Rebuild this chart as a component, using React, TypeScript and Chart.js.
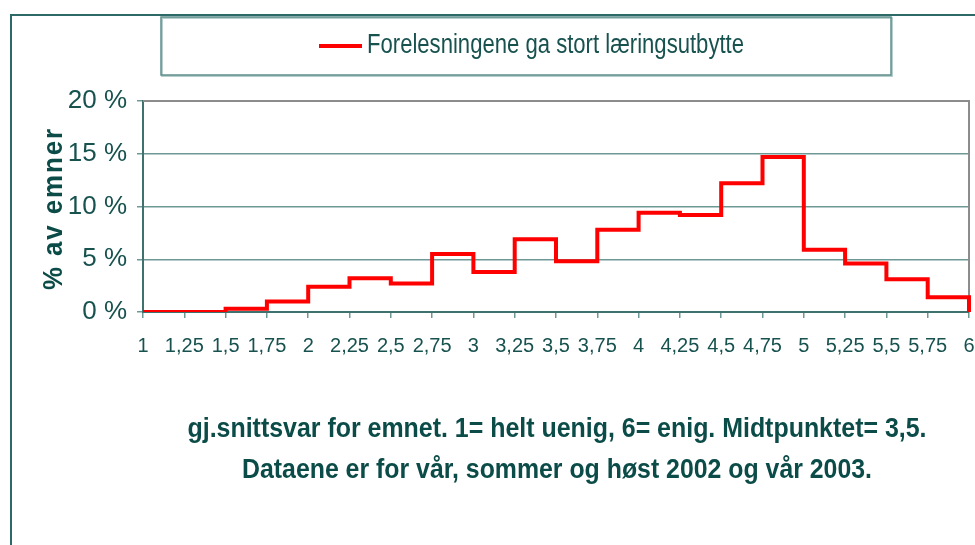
import React, { useEffect, useRef } from 'react';
import { Chart, registerables } from 'chart.js';

Chart.register(...registerables);

const xLabels = ['1', '1,25', '1,5', '1,75', '2', '2,25', '2,5', '2,75', '3', '3,25', '3,5', '3,75', '4', '4,25', '4,5', '4,75', '5', '5,25', '5,5', '5,75', '6'];
// value of each point applies to the interval that ends at the next label
const shareValues = [0, 0, 0.3, 1.0, 2.4, 3.2, 2.7, 5.5, 3.8, 6.9, 4.8, 7.8, 9.4, 9.2, 12.2, 14.7, 5.9, 4.6, 3.1, 1.4, 0];
const yTickValues = [0, 5, 10, 15, 20];
const seriesName = 'Forelesningene ga stort læringsutbytte';
const yTitle = '% av emner';
const xTitleLines = [
  'gj.snittsvar for emnet. 1= helt uenig, 6= enig. Midtpunktet= 3,5.',
  'Dataene er for vår, sommer og høst 2002 og vår 2003.',
];

const NARROW = "'Liberation Sans Narrow', 'Arial Narrow', 'Liberation Sans', Arial, sans-serif";
const SANS = "'Liberation Sans', Arial, sans-serif";
const TEXT = '#17524f';
const TITLE = '#0c4c48';
const GRID = '#6e9896';
const AXIS = '#3f716e';
const FRAME = '#2d6a67';

function fitText(ctx: CanvasRenderingContext2D, text: string, x: number, y: number, width: number, font: string, color: string, align: CanvasTextAlign, spacing = '0px') {
  ctx.save();
  ctx.font = font;
  (ctx as any).letterSpacing = spacing;
  const w = ctx.measureText(text).width;
  ctx.translate(x, y);
  ctx.scale(width / w, 1);
  ctx.textAlign = align;
  ctx.textBaseline = 'alphabetic';
  ctx.fillStyle = color;
  ctx.fillText(text, 0, 0);
  ctx.restore();
}

const decor = {
  id: 'decor',
  beforeDraw(chart: any) {
    const ctx = chart.ctx as CanvasRenderingContext2D;
    ctx.save();
    ctx.fillStyle = '#ffffff';
    ctx.fillRect(0, 0, chart.width, chart.height);
    ctx.strokeStyle = FRAME;
    ctx.lineWidth = 2;
    ctx.beginPath();
    ctx.moveTo(11, chart.height);
    ctx.lineTo(11, 15);
    ctx.lineTo(chart.width, 15);
    ctx.stroke();
    ctx.restore();
  },
  beforeDatasetsDraw(chart: any) {
    const ctx = chart.ctx as CanvasRenderingContext2D;
    const a = chart.chartArea;
    ctx.save();
    ctx.strokeStyle = '#8c8c8c';
    ctx.lineWidth = 2;
    ctx.beginPath();
    ctx.moveTo(a.left, a.top);
    ctx.lineTo(a.right, a.top);
    ctx.lineTo(a.right, a.bottom);
    ctx.stroke();
    ctx.restore();
  },
  afterDraw(chart: any) {
    const ctx = chart.ctx as CanvasRenderingContext2D;
    const a = chart.chartArea;
    // legend frame
    ctx.save();
    ctx.strokeStyle = '#b9cfce';
    ctx.lineWidth = 2;
    ctx.strokeRect(162, 18, 730, 58);
    ctx.strokeStyle = '#5e8f8c';
    ctx.lineWidth = 1.5;
    ctx.strokeRect(161, 17, 730, 58);
    ctx.strokeStyle = '#ff0000';
    ctx.lineWidth = 4;
    ctx.beginPath();
    ctx.moveTo(319, 46);
    ctx.lineTo(362, 46);
    ctx.stroke();
    ctx.restore();
    fitText(ctx, seriesName, 367, 53, 377, `27px ${NARROW}`, TEXT, 'left');

    // x title
    const cx = (a.left + a.right) / 2;
    fitText(ctx, xTitleLines[0], cx + 1, a.bottom + 125, 739, `bold 28px ${NARROW}`, TITLE, 'center');
    fitText(ctx, xTitleLines[1], cx + 1, a.bottom + 166, 630, `bold 28px ${NARROW}`, TITLE, 'center');

    // y title
    ctx.save();
    ctx.translate(a.left - 81, (a.top + a.bottom) / 2 + 2);
    ctx.rotate(-Math.PI / 2);
    fitText(ctx, yTitle, 0, 0, 163, `bold 27px ${SANS}`, TITLE, 'center', '2px');
    ctx.restore();
  },
};

export default function App() {
  const ref = useRef<HTMLCanvasElement | null>(null);
  useEffect(() => {
    if (!ref.current) return;
    const chart = new Chart(ref.current, {
      type: 'line',
      data: {
        labels: xLabels,
        datasets: [
          {
            label: seriesName,
            data: shareValues,
            stepped: 'before',
            borderColor: '#ff0000',
            borderWidth: 4,
            pointRadius: 0,
            fill: false,
          },
        ],
      },
      options: {
        responsive: false,
        animation: false,
        layout: { padding: { top: 101, right: 6, left: 0, bottom: 0 } },
        plugins: { legend: { display: false }, tooltip: { enabled: false }, title: { display: false } },
        scales: {
          x: {
            type: 'category',
            offset: false,
            grid: { display: true, drawOnChartArea: false, drawTicks: true, tickLength: 6, color: GRID, lineWidth: 1.5 },
            border: { display: true, color: AXIS, width: 2 },
            ticks: {
              autoSkip: false,
              maxRotation: 0,
              minRotation: 0,
              padding: 16,
              color: TEXT,
              font: { family: NARROW, size: 20 },
            },
            afterFit: (s: any) => {
              s.height = 233;
              s.paddingLeft = 0;
              s.paddingRight = 0;
            },
          },
          y: {
            min: 0,
            max: 20,
            afterBuildTicks: (s: any) => { s.ticks = yTickValues.map((v) => ({ value: v })); },
            grid: {
              color: (c: any) => (c.tick && c.tick.value === 20 ? '#8c8c8c' : GRID),
              lineWidth: 1.5,
              tickLength: 6,
              tickColor: GRID,
            },
            border: { display: true, color: AXIS, width: 2 },
            ticks: {
              padding: 10,
              color: TEXT,
              font: { family: NARROW, size: 26 },
              callback: (v: any) => `${v} %`,
            },
            afterFit: (s: any) => { s.width = 143; },
          },
        },
      },
      plugins: [decor],
    });
    return () => chart.destroy();
  }, []);
  return (
    <div style={{ position: 'absolute', left: 0, top: 0, width: 975, height: 545 }}>
      <canvas ref={ref} width={975} height={545} style={{ display: 'block' }} />
    </div>
  );
}
